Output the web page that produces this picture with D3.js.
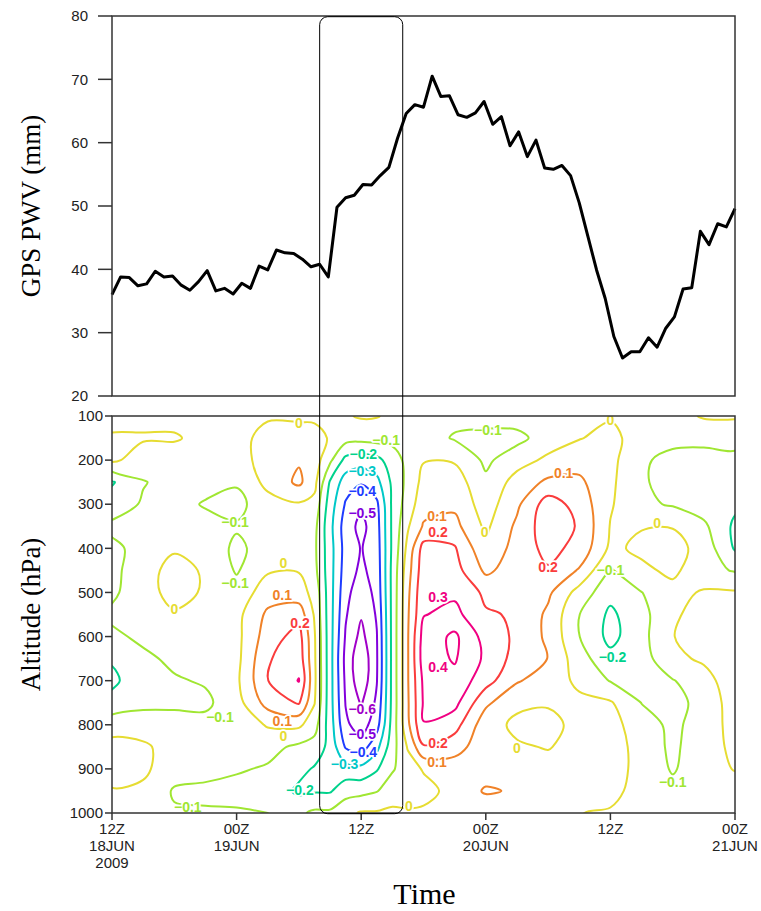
<!DOCTYPE html>
<html>
<head>
<meta charset="utf-8">
<script src="https://cdn.jsdelivr.net/npm/d3@7"></script>
<style>
  body { margin: 0; background: #fff; }
  svg { display: block; }
  .tick-label { font-family: "Liberation Sans", Arial, sans-serif; font-size: 15px; fill: #222; }
  .axis-title { font-family: "Liberation Serif", "Times New Roman", serif; fill: #000; }
  .clabel { font-family: "Liberation Sans", Arial, sans-serif; font-size: 14px; font-weight: bold;
            paint-order: stroke; stroke: #fff; stroke-width: 3.5px; stroke-linejoin: round;
            text-anchor: middle; dominant-baseline: central; }
</style>
</head>
<body>
<script>
// GPS PWV (mm), one reading every 50 minutes from 12Z 18JUN to 00Z 21JUN
const pwvStepHours = 50 / 60;
const pwv = [36.0, 38.8, 38.7, 37.4, 37.7, 39.7, 38.8, 38.95, 37.5, 36.7,
             38.05, 39.8, 36.6, 37.0, 36.1, 37.8, 37.0, 40.5, 39.9, 43.05,
             42.6, 42.5, 41.6, 40.4, 40.8, 38.8, 49.8, 51.3, 51.7, 53.4,
             53.3, 54.8, 56.1, 60.7, 64.6, 66.0, 65.6, 70.5, 67.3, 67.4,
             64.4, 64.0, 64.7, 66.5, 62.9, 64.1, 59.5, 61.7, 57.8, 60.4,
             56.0, 55.8, 56.4, 54.8, 50.5, 45.2, 39.9, 35.4, 29.4, 26.0,
             27.0, 27.0, 29.2, 27.7, 30.7, 32.5, 36.9, 37.1, 46.0, 43.9,
             47.2, 46.7, 49.6];

// contoured field: one vertical profile (100 -> 1000 hPa) per time (hours after 12Z 18JUN)
const profileHours = [0, 3, 6, 9, 12, 15, 18, 19.5, 21, 22.5, 24, 25.5, 27, 28.5,
                      30, 33, 36, 39, 42, 45, 48, 51, 54, 57, 60];
const pressureLevels = [100, 150, 200, 250, 300, 350, 400, 450, 500, 550,
                        600, 650, 700, 750, 800, 850, 900, 950, 1000];
const anomaly = [
  [-0.03, 0.01, 0.02, -0.21, -0.15, -0.08, -0.12, -0.13, -0.12, -0.08, -0.12, -0.19, -0.22, -0.17, -0.04, 0.03, 0.03, -0.005, -0.05],
  [-0.03, 0.01, -0.05, -0.105, -0.09, -0.07, -0.07, -0.035, -0.035, -0.06, -0.08, -0.12, -0.14, -0.12, -0.06, 0.02, 0.02, -0.02, -0.07],
  [-0.03, 0.01, -0.05, -0.07, -0.08, -0.06, -0.01, 0.03, 0.03, -0.01, -0.05, -0.08, -0.11, -0.11, -0.08, -0.05, -0.06, -0.11, -0.09],
  [-0.03, -0.03, -0.05, -0.08, -0.105, -0.08, -0.04, -0.01, -0.01, -0.04, -0.05, -0.06, -0.09, -0.12, -0.07, -0.06, -0.07, -0.12, -0.09],
  [-0.02, -0.03, -0.05, -0.09, -0.13, -0.09, -0.12, -0.11, -0.06, -0.03, -0.03, -0.03, -0.02, -0.04, -0.07, -0.08, -0.09, -0.13, -0.09],
  [-0.01, 0.03, 0.05, 0.03, -0.04, -0.06, -0.06, -0.01, 0.05, 0.12, 0.15, 0.19, 0.198, 0.14, 0.01, -0.07, -0.11, -0.13, -0.1],
  [-0.02, 0.05, 0.09, 0.12, -0.01, -0.05, -0.04, -0.005, 0.04, 0.16, 0.24, 0.26, 0.305, 0.21, 0.02, -0.12, -0.17, -0.22, -0.12],
  [-0.02, 0.04, 0.05, 0.03, -0.03, -0.07, -0.08, -0.07, -0.03, -0.01, 0.01, 0.015, 0.02, 0.005, -0.06, -0.14, -0.21, -0.21, -0.08],
  [-0.02, -0.01, -0.08, -0.21, -0.25, -0.27, -0.26, -0.26, -0.26, -0.26, -0.26, -0.26, -0.26, -0.26, -0.25, -0.23, -0.22, -0.21, -0.08],
  [-0.01, -0.06, -0.23, -0.35, -0.41, -0.45, -0.44, -0.45, -0.47, -0.49, -0.51, -0.53, -0.52, -0.505, -0.48, -0.41, -0.26, -0.14, -0.03],
  [0.01, -0.07, -0.25, -0.39, -0.48, -0.53, -0.505, -0.52, -0.56, -0.59, -0.63, -0.68, -0.67, -0.61, -0.55, -0.45, -0.27, -0.13, 0.01],
  [0.005, -0.06, -0.23, -0.33, -0.42, -0.44, -0.45, -0.46, -0.47, -0.49, -0.505, -0.51, -0.505, -0.48, -0.44, -0.33, -0.21, -0.105, 0.01],
  [-0.02, -0.07, -0.15, -0.18, -0.18, -0.18, -0.18, -0.17, -0.17, -0.17, -0.17, -0.17, -0.17, -0.17, -0.16, -0.14, -0.11, -0.05, 0.02],
  [-0.03, -0.05, -0.07, -0.07, -0.05, -0.01, 0.03, 0.06, 0.08, 0.09, 0.095, 0.095, 0.095, 0.09, 0.08, 0.01, -0.05, -0.04, 0.01],
  [-0.05, -0.05, -0.005, 0.03, 0.06, 0.11, 0.24, 0.26, 0.28, 0.295, 0.34, 0.35, 0.32, 0.31, 0.298, 0.19, 0.01, -0.04, 0.02],
  [-0.07, -0.11, -0.01, 0.05, 0.08, 0.13, 0.21, 0.24, 0.28, 0.33, 0.42, 0.41, 0.37, 0.33, 0.24, 0.14, 0.05, 0.04, 0.03],
  [-0.06, -0.13, -0.12, -0.08, -0.05, -0.02, 0.02, 0.08, 0.18, 0.21, 0.26, 0.28, 0.24, 0.12, 0.04, 0.04, 0.06, 0.11, 0.04],
  [-0.05, -0.13, -0.04, 0.04, 0.08, 0.12, 0.14, 0.15, 0.17, 0.19, 0.18, 0.16, 0.11, 0.02, -0.02, 0.01, 0.07, 0.09, 0.04],
  [-0.04, -0.05, 0.02, 0.12, 0.25, 0.26, 0.23, 0.19, 0.12, 0.08, 0.08, 0.098, 0.05, 0.01, -0.03, -0.005, 0.03, 0.05, 0.04],
  [-0.02, -0.005, 0.06, 0.12, 0.16, 0.19, 0.17, 0.09, -0.04, -0.098, -0.098, -0.06, -0.02, 0.02, 0.03, 0.03, 0.03, 0.02, 0.002],
  [-0.01, 0.03, 0.03, 0.02, 0.01, -0.005, -0.02, -0.11, -0.17, -0.22, -0.23, -0.17, -0.105, 0.01, 0.04, 0.05, 0.04, 0.03, -0.01],
  [-0.03, -0.05, -0.09, -0.09, -0.08, -0.005, 0.02, -0.02, -0.102, -0.13, -0.13, -0.14, -0.15, -0.102, -0.06, -0.04, -0.03, -0.04, -0.05],
  [-0.04, -0.08, -0.12, -0.13, -0.11, -0.005, 0.04, 0.02, -0.03, -0.02, -0.005, -0.03, -0.105, -0.12, -0.12, -0.12, -0.11, -0.07, -0.06],
  [0.01, -0.07, -0.14, -0.16, -0.15, -0.08, -0.04, -0.06, 0.01, 0.05, 0.07, 0.02, -0.05, -0.08, -0.06, -0.04, -0.04, -0.05, -0.06],
  [0.01, -0.06, -0.13, -0.15, -0.18, -0.22, -0.21, -0.11, 0.01, 0.05, 0.08, 0.09, 0.08, 0.06, 0.04, 0.02, 0.005, -0.04, -0.06]
];

const contourLevels = [-0.6, -0.5, -0.4, -0.3, -0.2, -0.1, 0, 0.1, 0.2, 0.3, 0.4];
const levelColors = ['rgb(160,0,200)', 'rgb(130,0,220)', 'rgb(30,60,255)', 'rgb(0,200,200)',
                     'rgb(0,210,140)', 'rgb(160,230,50)', 'rgb(230,220,50)', 'rgb(240,130,40)',
                     'rgb(250,60,60)', 'rgb(240,0,130)', 'rgb(240,0,130)'];

// contour labels: [hours, hPa, level]
const contourLabels = [
  [18.0, 116, 0], [26.4, 155, -0.1], [24.2, 186, -0.2], [24.1, 224, -0.3], [24.1, 270, -0.4],
  [24.1, 320, -0.5], [36.2, 132, -0.1], [43.5, 229, 0.1], [48.0, 109, 0], [31.3, 326, 0.1],
  [31.4, 364, 0.2], [35.9, 363, 0], [42.0, 442, 0.2], [52.5, 343, 0], [11.85, 340, -0.1],
  [11.85, 479, -0.1], [6.0, 538, 0], [16.5, 433, 0], [16.4, 506, 0.1], [18.1, 569, 0.2],
  [10.4, 782, -0.1], [16.4, 791, 0.1], [16.5, 826, 0], [18.1, 948, -0.2], [7.3, 986, -0.1],
  [24.1, 765, -0.6], [24.1, 821, -0.5], [24.2, 861, -0.4], [22.4, 889, -0.3], [31.4, 510, 0.3],
  [31.4, 669, 0.4], [31.4, 842, 0.2], [31.3, 884, 0.1], [28.6, 984, 0], [39.0, 853, 0],
  [48.0, 449, -0.1], [48.2, 646, -0.2], [54.0, 930, -0.1]
];

const timeTicks = [0, 12, 24, 36, 48, 60];
const timeTickLabels = [['12Z', '18JUN', '2009'], ['00Z', '19JUN'], ['12Z'], ['00Z', '20JUN'], ['12Z'], ['00Z', '21JUN']];
const pwvTicks = [20, 30, 40, 50, 60, 70, 80];
const pressureTicks = [100, 200, 300, 400, 500, 600, 700, 800, 900, 1000];

// highlighted period (hours)
const boxStart = 20, boxEnd = 28;

const width = 761, height = 911;
const left = 112, right = 735;
const top1 = 16, bottom1 = 396;
const top2 = 416, bottom2 = 813;

const svg = d3.select('body').append('svg')
  .attr('width', width)
  .attr('height', height);

const x = d3.scaleLinear().domain([0, 60]).range([left, right]);
const yPwv = d3.scaleLinear().domain([20, 80]).range([bottom1, top1]);
const yP = d3.scaleLinear().domain([100, 1000]).range([top2, bottom2]);

// ---------- top panel ----------
svg.append('path')
  .datum(pwv)
  .attr('fill', 'none')
  .attr('stroke', '#000')
  .attr('stroke-width', 3)
  .attr('stroke-linejoin', 'round')
  .attr('d', d3.line().x((d, i) => x(i * pwvStepHours)).y(d => yPwv(d)));

svg.append('rect')
  .attr('x', left).attr('y', top1)
  .attr('width', right - left).attr('height', bottom1 - top1)
  .attr('fill', 'none').attr('stroke', '#333').attr('stroke-width', 1.5);

svg.selectAll('.pwv-tick')
  .data(pwvTicks)
  .enter().append('line')
  .attr('x1', left - 14).attr('x2', left)
  .attr('y1', d => yPwv(d)).attr('y2', d => yPwv(d))
  .attr('stroke', '#333').attr('stroke-width', 1.5);

svg.selectAll('.pwv-label')
  .data(pwvTicks)
  .enter().append('text')
  .attr('class', 'tick-label')
  .attr('x', left - 24)
  .attr('y', d => yPwv(d))
  .attr('dy', '0.35em')
  .attr('text-anchor', 'end')
  .text(d => d);

// ---------- bottom panel: contours ----------
const nx = profileHours.length, ny = pressureLevels.length;
const grid = new Array(nx * ny);
anomaly.forEach((col, i) => col.forEach((v, j) => { grid[j * nx + i] = v; }));

const colToHour = d3.scaleLinear().domain(d3.range(nx)).range(profileHours);
const rowToLevel = d3.scaleLinear().domain(d3.range(ny)).range(pressureLevels);
const project = p => [x(colToHour(p[0] - 0.5)), yP(rowToLevel(p[1] - 0.5))];
const eps = 1e-9;
const isInside = p => p[0] >= 0.5 - eps && p[0] <= nx - 0.5 + eps && p[1] >= 0.5 - eps && p[1] <= ny - 0.5 + eps;

// cut each ring where it leaves the data area so no line runs along the frame
function splitRing(ring) {
  let pts = ring.slice();
  const a = pts[0], b = pts[pts.length - 1];
  if (a[0] === b[0] && a[1] === b[1]) pts.pop();
  const n = pts.length;
  const inside = pts.map(isInside);
  if (inside.every(Boolean)) return [{ closed: true, pts }];
  const s = inside.indexOf(false);
  const runs = [];
  let cur = null;
  for (let k = 1; k <= n; k++) {
    const idx = (s + k) % n;
    if (inside[idx]) {
      if (!cur) cur = [pts[(idx - 1 + n) % n]];
      cur.push(pts[idx]);
    } else if (cur) {
      cur.push(pts[idx]);
      runs.push({ closed: false, pts: cur });
      cur = null;
    }
  }
  return runs;
}

const contours = d3.contours().size([nx, ny]).thresholds(contourLevels)(grid);

svg.append('clipPath').attr('id', 'plot-clip')
  .append('rect')
  .attr('x', left).attr('y', top2)
  .attr('width', right - left).attr('height', bottom2 - top2);

const contourG = svg.append('g').attr('clip-path', 'url(#plot-clip)');
const openLine = d3.line().curve(d3.curveCatmullRom.alpha(0.5));
const closedLine = d3.line().curve(d3.curveCatmullRomClosed.alpha(0.5));

contours.forEach(c => {
  const li = contourLevels.findIndex(v => Math.abs(v - c.value) < 1e-9);
  const color = levelColors[li];
  c.coordinates.forEach(polygon => {
    polygon.forEach(ring => {
      splitRing(ring).forEach(run => {
        const pts = run.pts.map(project);
        if (pts.length < 2) return;
        contourG.append('path')
          .attr('d', run.closed ? closedLine(pts) : openLine(pts))
          .attr('fill', 'none')
          .attr('stroke', color)
          .attr('stroke-width', 2)
          .attr('stroke-linejoin', 'round');
      });
    });
  });
});

const fmt = v => v === 0 ? '0' : (v < 0 ? '\u2212' : '') + Math.abs(v).toFixed(1);

contourG.selectAll('.clabel')
  .data(contourLabels)
  .enter().append('text')
  .attr('class', 'clabel')
  .attr('x', d => x(d[0]))
  .attr('y', d => yP(d[1]))
  .attr('fill', d => levelColors[contourLevels.findIndex(v => Math.abs(v - d[2]) < 1e-9)])
  .text(d => fmt(d[2]));

svg.append('rect')
  .attr('x', left).attr('y', top2)
  .attr('width', right - left).attr('height', bottom2 - top2)
  .attr('fill', 'none').attr('stroke', '#333').attr('stroke-width', 1.5);

svg.selectAll('.p-tick')
  .data(pressureTicks)
  .enter().append('line')
  .attr('x1', left - 7).attr('x2', left)
  .attr('y1', d => yP(d)).attr('y2', d => yP(d))
  .attr('stroke', '#333').attr('stroke-width', 1.5);

svg.selectAll('.p-label')
  .data(pressureTicks)
  .enter().append('text')
  .attr('class', 'tick-label')
  .attr('x', left - 9)
  .attr('y', d => yP(d))
  .attr('dy', '0.35em')
  .attr('text-anchor', 'end')
  .text(d => d);

svg.selectAll('.t-tick')
  .data(timeTicks)
  .enter().append('line')
  .attr('x1', d => x(d)).attr('x2', d => x(d))
  .attr('y1', bottom2).attr('y2', bottom2 + 7)
  .attr('stroke', '#333').attr('stroke-width', 1.5);

const tLabel = svg.selectAll('.t-label')
  .data(timeTicks)
  .enter().append('text')
  .attr('class', 'tick-label')
  .attr('text-anchor', 'middle');

tLabel.selectAll('tspan')
  .data((d, i) => timeTickLabels[i].map(s => ({ s, t: d })))
  .enter().append('tspan')
  .attr('x', d => x(d.t))
  .attr('y', (d, i) => 834 + i * 17)
  .text(d => d.s);

// highlighted period
svg.append('rect')
  .attr('x', x(boxStart)).attr('y', top1 + 0.7)
  .attr('width', x(boxEnd) - x(boxStart))
  .attr('height', bottom2 - top1)
  .attr('rx', 8).attr('ry', 8)
  .attr('fill', 'none').attr('stroke', '#000').attr('stroke-width', 1);

// titles
svg.append('text')
  .attr('class', 'axis-title')
  .attr('transform', `translate(40, ${(top1 + bottom1) / 2}) rotate(-90)`)
  .attr('text-anchor', 'middle')
  .attr('font-size', 27)
  .text('GPS PWV (mm)');

svg.append('text')
  .attr('class', 'axis-title')
  .attr('transform', `translate(40, ${(top2 + bottom2) / 2}) rotate(-90)`)
  .attr('text-anchor', 'middle')
  .attr('font-size', 27)
  .text('Altitude (hPa)');

svg.append('text')
  .attr('class', 'axis-title')
  .attr('x', (left + right) / 2 + 1)
  .attr('y', 904)
  .attr('text-anchor', 'middle')
  .attr('font-size', 30)
  .text('Time');
</script>
</body>
</html>
